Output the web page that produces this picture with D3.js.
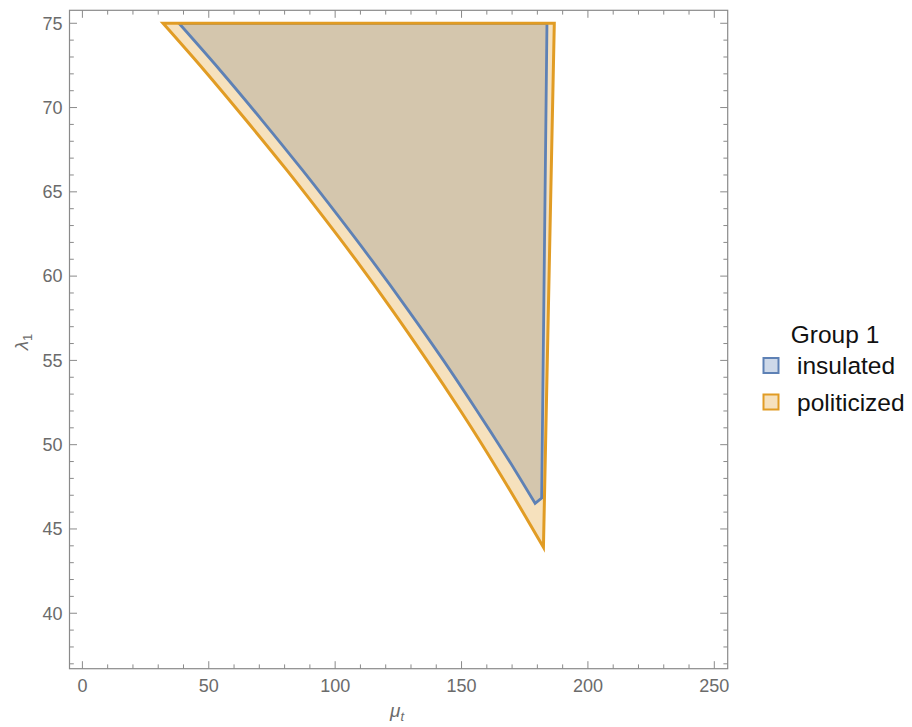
<!DOCTYPE html>
<html>
<head>
<meta charset="utf-8">
<script src="https://cdn.jsdelivr.net/npm/d3@7"></script>
<style>
  body { margin: 0; background: #fff; }
  svg { font-family: "Liberation Sans", Arial, sans-serif; }
</style>
</head>
<body>
<svg id="chart" width="912" height="727"></svg>
<script>
// Region outlines, as [mu_t, lambda_1]
// straight edges: top-left, top-right, bottom corner(s)
const politicizedEdge = [[31.9, 75], [186.7, 75], [182.4, 43.91]];
// curved left boundary, from the bottom corner up to the top-left corner
const politicizedCurve = [
  [182.4, 43.91], [169.1, 47.31], [157.0, 50.28], [149.4, 52.06], [136.2, 55.03],
  [122.5, 58.0], [108.2, 60.96], [94.7, 63.63], [80.8, 66.3], [64.7, 69.26],
  [48.1, 72.23], [31.9, 75]
];
const insulatedEdge = [[38.2, 75], [183.8, 75], [181.7, 46.83], [179.1, 46.52]];
const insulatedCurve = [
  [179.1, 46.52], [171.1, 48.5], [163.6, 50.28], [155.9, 52.06], [142.7, 55.03],
  [128.8, 58.0], [114.4, 60.96], [100.9, 63.63], [87.0, 66.3], [71.0, 69.26],
  [54.4, 72.23], [38.2, 75]
];

const xMajor = [0, 50, 100, 150, 200, 250];
const yMajor = [40, 45, 50, 55, 60, 65, 70, 75];
const legendTitle = "Group 1";
const legendLabels = ["insulated", "politicized"];

const blue = "#5e81b5", orange = "#e19c24";
const frameColor = "#8a8a8a", labelColor = "#6b6b6b";

const svg = d3.select("#chart");
const mLeft = 69.5, mRight = 727.7, mTop = 10.3, mBottom = 668.7;

const x = d3.scaleLinear().domain([-5.1, 255.3]).range([mLeft, mRight]);
const y = d3.scaleLinear().domain([36.71, 75.77]).range([mBottom, mTop]);

const straight = d3.line().x(d => x(d[0])).y(d => y(d[1]));
const smooth = d3.line().x(d => x(d[0])).y(d => y(d[1])).curve(d3.curveCatmullRom.alpha(0.5));

// outline = straight edges, then the smooth curve back to the start
const outline = (edge, curve) => straight(edge) + smooth(curve).replace(/^M/, "L") + "Z";

const regions = [
  { d: outline(insulatedEdge, insulatedCurve), color: blue, w: 2.8 },
  { d: outline(politicizedEdge, politicizedCurve), color: orange, w: 3 }
];

// fills: blue first, orange on top (both translucent), then the outlines
regions.forEach(r => svg.append("path").attr("d", r.d)
  .attr("fill", r.color).attr("fill-opacity", 0.3));
regions.forEach(r => svg.append("path").attr("d", r.d)
  .attr("fill", "none").attr("stroke", r.color).attr("stroke-width", r.w)
  .attr("stroke-linejoin", "miter"));

// frame
svg.append("rect")
  .attr("x", mLeft).attr("y", mTop)
  .attr("width", mRight - mLeft).attr("height", mBottom - mTop)
  .attr("fill", "none").attr("stroke", frameColor).attr("stroke-width", 1.2);

const xMinor = d3.range(0, 256, 10).filter(v => !xMajor.includes(v));
const yMinor = d3.range(37, 76, 1).filter(v => !yMajor.includes(v));

const ticks = svg.append("g").attr("stroke", frameColor).attr("stroke-width", 1);

[[xMajor, true], [xMinor, false]].forEach(([vals, major]) => {
  vals.forEach(v => {
    const px = x(v), L = major ? 7.5 : 4.3;
    ticks.append("line").attr("x1", px).attr("x2", px).attr("y1", mBottom).attr("y2", mBottom - L);
    ticks.append("line").attr("x1", px).attr("x2", px).attr("y1", mTop).attr("y2", mTop + L);
  });
});
[[yMajor, true], [yMinor, false]].forEach(([vals, major]) => {
  vals.forEach(v => {
    const py = y(v), L = major ? 7.5 : 4.3;
    ticks.append("line").attr("y1", py).attr("y2", py).attr("x1", mLeft).attr("x2", mLeft + L);
    ticks.append("line").attr("y1", py).attr("y2", py).attr("x1", mRight).attr("x2", mRight - L);
  });
});

// tick labels
svg.append("g").selectAll("text").data(xMajor).join("text")
  .attr("x", d => x(d)).attr("y", mBottom + 23)
  .attr("text-anchor", "middle").attr("font-size", 18).attr("fill", labelColor)
  .text(d => d);
svg.append("g").selectAll("text").data(yMajor).join("text")
  .attr("x", mLeft - 7).attr("y", d => y(d) + 6.3)
  .attr("text-anchor", "end").attr("font-size", 18).attr("fill", labelColor)
  .text(d => d);

// axis labels
const xl = svg.append("text").attr("x", 397).attr("y", 717)
  .attr("text-anchor", "middle").attr("fill", labelColor).attr("font-size", 19);
xl.append("tspan").attr("font-style", "italic").text("μ");
xl.append("tspan").attr("font-style", "italic").attr("font-size", 13).attr("dy", 4).text("t");

const yl = svg.append("text")
  .attr("transform", "translate(28,342) rotate(-90)")
  .attr("text-anchor", "middle").attr("fill", labelColor).attr("font-size", 19);
yl.append("tspan").attr("font-style", "italic").text("λ");
yl.append("tspan").attr("font-size", 13).attr("dy", 4).text("1");

// legend
const lg = svg.append("g");
lg.append("text").attr("x", 835).attr("y", 343).attr("text-anchor", "middle")
  .attr("font-size", 24.5).attr("fill", "#111").text(legendTitle);
[blue, orange].forEach((c, i) => {
  const yy = 358 + i * 36.5;
  lg.append("rect").attr("x", 763.5).attr("y", yy).attr("width", 15).attr("height", 15)
    .attr("fill", c).attr("fill-opacity", 0.3).attr("stroke", c).attr("stroke-width", 2);
  lg.append("text").attr("x", 797).attr("y", yy + 16).attr("font-size", 24.5)
    .attr("fill", "#111").text(legendLabels[i]);
});
</script>
</body>
</html>
